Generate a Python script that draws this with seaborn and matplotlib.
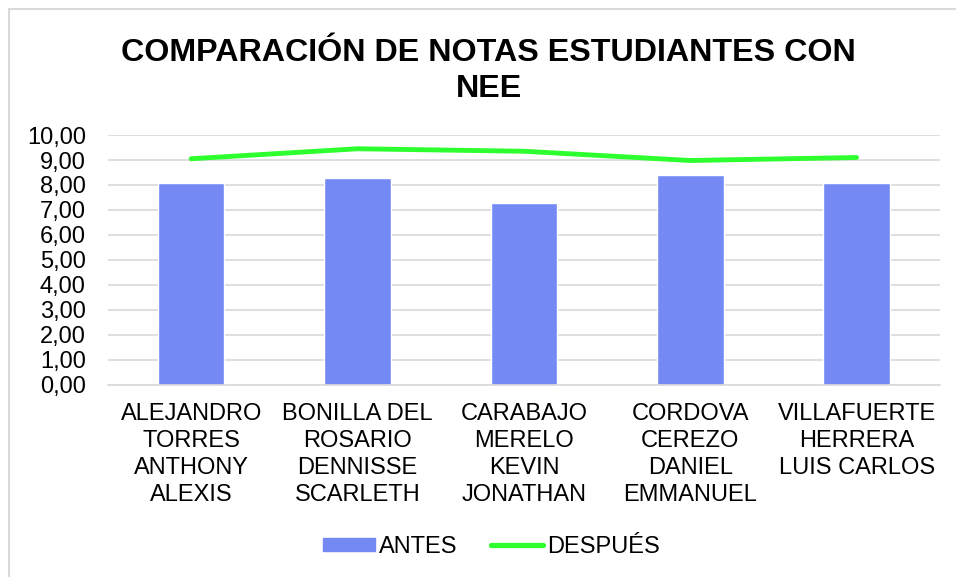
import matplotlib
matplotlib.use("Agg")
import matplotlib.pyplot as plt
import matplotlib.patches as mpatches
from matplotlib.lines import Line2D
from matplotlib.ticker import FuncFormatter, MultipleLocator
import seaborn as sns
import numpy as np

names = ["ALEJANDRO\nTORRES\nANTHONY\nALEXIS",
         "BONILLA DEL\nROSARIO\nDENNISSE\nSCARLETH",
         "CARABAJO\nMERELO\nKEVIN\nJONATHAN",
         "CORDOVA\nCEREZO\nDANIEL\nEMMANUEL",
         "VILLAFUERTE\nHERRERA\nLUIS CARLOS"]
antes = [8.09, 8.28, 7.26, 8.38, 8.07]
despues = [9.05, 9.45, 9.35, 8.98, 9.10]

bar_color = "#7489F3"
line_color = "#2EFF2E"

sns.set_style("white")
plt.rcParams["font.family"] = ["Liberation Sans", "DejaVu Sans"]
plt.rcParams["text.color"] = "black"
plt.rcParams["xtick.color"] = "black"
plt.rcParams["ytick.color"] = "black"

fig = plt.figure(figsize=(9.56, 5.77), dpi=100)
ax = fig.add_axes([0.113, 0.333, 0.870, 0.433])

sns.barplot(x=names, y=antes, color=bar_color, width=0.4, saturation=1, ax=ax, zorder=2)
sns.lineplot(x=np.arange(len(names)), y=despues, color=line_color, linewidth=3.5,
             ax=ax, zorder=3, solid_capstyle="round")

ax.set_xlim(-0.5, len(names) - 0.5)
ax.set_ylim(0, 10)
ax.yaxis.set_major_locator(MultipleLocator(1))
ax.yaxis.set_major_formatter(FuncFormatter(lambda v, p: f"{v:.2f}".replace(".", ",")))
ax.grid(axis="y", color="#d9d9d9", linewidth=1.2, zorder=0)
ax.set_axisbelow(True)
for s in ["top", "right", "left"]:
    ax.spines[s].set_visible(False)
ax.spines["bottom"].set_color("#d9d9d9")
ax.spines["bottom"].set_linewidth(1.2)
ax.tick_params(axis="y", length=0, pad=16, labelsize=17)
ax.tick_params(axis="x", length=0, pad=13, labelsize=17)
for lab in ax.get_xticklabels():
    lab.set_linespacing(1.3)
ax.set_xlabel("")
ax.set_ylabel("")

fig.text(0.511, 0.877, "COMPARACIÓN DE NOTAS ESTUDIANTES CON\nNEE", ha="center", va="center",
         fontsize=23.2, fontweight="bold", linespacing=1.22)

handles = [mpatches.Patch(color=bar_color, label="ANTES"),
           Line2D([0], [0], color=line_color, linewidth=3.8, solid_capstyle="round", label="DESPUÉS")]
fig.legend(handles=handles, loc="center", bbox_to_anchor=(0.514, 0.052), ncol=2, frameon=False,
           fontsize=17, handlelength=2.2, handleheight=0.5, handletextpad=0.15, columnspacing=1.45)

border = mpatches.Rectangle((8.5 / 956, -0.1), 1.2, 1.1 - 8.5 / 577, transform=fig.transFigure,
                            fill=False, edgecolor="#d9d9d9", linewidth=1.5)
fig.patches.append(border)

fig.savefig("out.png", dpi=100)
